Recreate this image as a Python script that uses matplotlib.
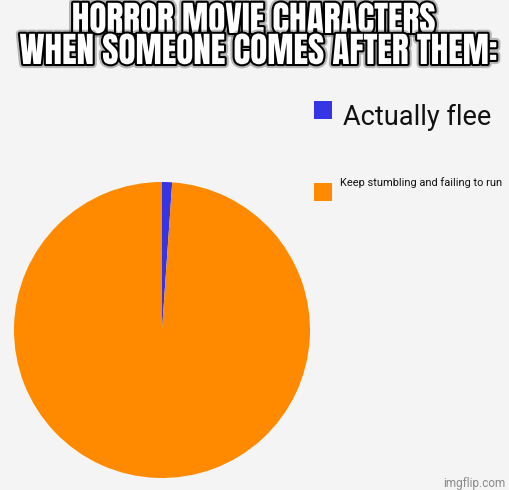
import matplotlib
matplotlib.use("Agg")
import matplotlib.pyplot as plt
import matplotlib.patheffects as pe
from matplotlib.patches import Rectangle

# data
labels = ["Actually flee", "Keep stumbling and failing to run"]
values = [1.1, 98.9]
colors = ["#3535e6", "#ff8a00"]
title_lines = ["HORROR MOVIE CHARACTERS", "WHEN SOMEONE COMES AFTER THEM:"]
watermark = "imgflip.com"

W, H = 510, 490
BG = "#f4f4f4"
fig = plt.figure(figsize=(W / 100, H / 100), dpi=100, facecolor=BG)

def fx(px):
    return px / W

def fy(py):
    return (H - py) / H

# pie
cx, cy, r = 162, 330, 148
ax = fig.add_axes([fx(cx - r), fy(cy + r), 2 * r / W, 2 * r / H])
ax.set_facecolor(BG)
ax.pie(values, colors=colors, startangle=90, counterclock=False, radius=1,
       wedgeprops=dict(linewidth=0))
ax.set_xlim(-1, 1)
ax.set_ylim(-1, 1)
ax.set_aspect("auto")
ax.axis("off")

# legend (manual)
leg_sq = [(314, 101, 18), (314, 183, 18)]
leg_txt = [(343, 125, 19.5), (340, 186, 7.9)]
for (sx, sy, s), (tx, ty, fs), lab, col in zip(leg_sq, leg_txt, labels, colors):
    fig.patches.append(Rectangle((fx(sx), fy(sy + s)), s / W, s / H,
                                 transform=fig.transFigure, facecolor=col,
                                 edgecolor="none"))
    fig.text(fx(tx), fy(ty), lab, fontsize=fs, family=["Roboto", "DejaVu Sans"],
             color="#111111", ha="left", va="baseline")

# title
effects = [pe.withStroke(linewidth=6, foreground="#00000040"),
           pe.withStroke(linewidth=3, foreground="black")]
for line, (tx, ty) in zip(title_lines, [(254, 33), (259, 64)]):
    fig.text(fx(tx), fy(ty), line, fontsize=25.3,
             family=["Anton", "Oswald", "DejaVu Sans"],
             color="white", ha="center", va="baseline", path_effects=effects)

# watermark
fig.text(fx(505), fy(487), watermark, fontsize=8.5, family=["Roboto", "DejaVu Sans"],
         color="#8a8a8a", ha="right", va="baseline")

fig.savefig("out.png", dpi=100, facecolor=BG)
